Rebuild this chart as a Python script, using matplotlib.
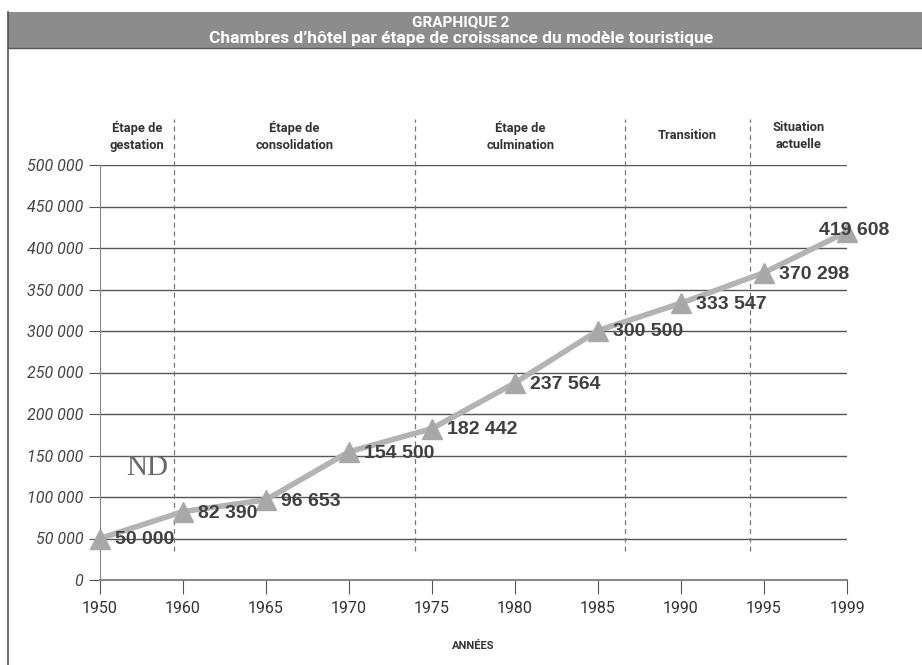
import matplotlib
matplotlib.use("Agg")
import matplotlib.pyplot as plt
from matplotlib.patches import Rectangle
from matplotlib.lines import Line2D
import matplotlib.transforms as mtransforms

# Data
years = ["1950", "1960", "1965", "1970", "1975", "1980", "1985", "1990", "1995", "1999"]
rooms = [50000, 82390, 96653, 154500, 182442, 237564, 300500, 333547, 370298, 419608]
labels = ["50 000", "82 390", "96 653", "154 500", "182 442", "237 564",
          "300 500", "333 547", "370 298", "419 608"]
yticks = [0, 50000, 100000, 150000, 200000, 250000, 300000, 350000, 400000, 450000, 500000]
ytick_labels = ["0", "50 000", "100 000", "150 000", "200 000", "250 000",
                "300 000", "350 000", "400 000", "450 000", "500 000"]

# stage boundaries, in category-index units
stage_edges = [0, 0.89, 3.8, 6.33, 7.83, 9]
stage_names = ["Étape de\ngestation", "Étape de\nconsolidation", "Étape de\nculmination",
               "Transition", "Situation\nactuelle"]

narrow = ["Roboto", "DejaVu Sans"]

fig = plt.figure(figsize=(9.22, 6.65), dpi=100)
W, H = 922, 665

# frame + title banner
fig.add_artist(Line2D([8 / W, 8 / W], [0, 1 - 12 / H], color="#555555", lw=1.2))
fig.add_artist(Rectangle((8 / W, 1 - 48 / H), 1 - 8 / W, 36 / H, color="#8c8c8c", lw=0))
fig.add_artist(Line2D([8 / W, 1], [1 - 48 / H, 1 - 48 / H], color="#5a5a5a", lw=1))
fig.text(0.5, 1 - 22 / H, "GRAPHIQUE 2", color="white", fontsize=11, fontweight="bold",
         ha="center", va="center", family=narrow)
fig.text(0.5, 1 - 38 / H, "Chambres d’hôtel par étape de croissance du modèle touristique",
         color="white", fontsize=12.5, fontweight="bold", ha="center", va="center", family=narrow)

ax = fig.add_axes([100 / W, 1 - 580 / H, 747 / W, 415 / H])
x = list(range(len(years)))

ax.set_xlim(0, len(years) - 1)
ax.set_ylim(0, 500000)
ax.set_yticks(yticks)
ax.set_yticklabels(ytick_labels, fontstyle="italic", color="#444444", fontsize=11.5, family=narrow)
ax.set_xticks(x)
ax.set_xticklabels(years, color="#333333", fontsize=11.5, family=narrow)
ax.tick_params(axis="y", length=8, color="#555555", pad=4)
ax.tick_params(axis="x", length=10, color="#555555", pad=5)
ax.grid(axis="y", color="#555555", lw=1)
ax.set_axisbelow(True)
for s in ["top", "right"]:
    ax.spines[s].set_visible(False)
ax.spines["left"].set_color("#888888")
ax.spines["bottom"].set_color("#888888")
ax.spines["bottom"].set_linewidth(1.5)

ax.set_xlabel("ANNÉES", fontsize=8, fontweight="bold", color="#333333", family=narrow, labelpad=18)

# stage separators and names
trans = mtransforms.blended_transform_factory(ax.transData, ax.transAxes)
for e in stage_edges[1:-1]:
    ax.plot([e, e], [0.07, 1.11], transform=trans, color="#777777", lw=0.9,
            ls=(0, (4, 3)), clip_on=False, zorder=1)
for i, name in enumerate(stage_names):
    mid = (stage_edges[i] + stage_edges[i + 1]) / 2
    ax.text(mid, 1.07, name, transform=trans, ha="center", va="center", fontsize=9.3,
            fontweight="bold", color="#333333", family=narrow, linespacing=1.4)

# series
ax.plot(x, rooms, color="#b3b3b3", lw=4, marker="^", markersize=15,
        markerfacecolor="#a8a8a8", markeredgecolor="#a8a8a8", clip_on=False, zorder=3)

for i, (v, lab) in enumerate(zip(rooms, labels)):
    dx, dy = (11, -1) if i < len(rooms) - 1 else (-20, 1)
    ax.annotate(lab, (i, v), xytext=(dx, dy), textcoords="offset points", ha="left",
                va="center", fontsize=14, fontweight="bold", color="#404040",
                family=["Liberation Sans", "DejaVu Sans"], zorder=4)

ax.text(0.57, 135000, "ND", fontsize=21, color="#666666", ha="center", va="center",
        family=["Liberation Serif", "DejaVu Serif"])

fig.savefig("out.png", dpi=100)
